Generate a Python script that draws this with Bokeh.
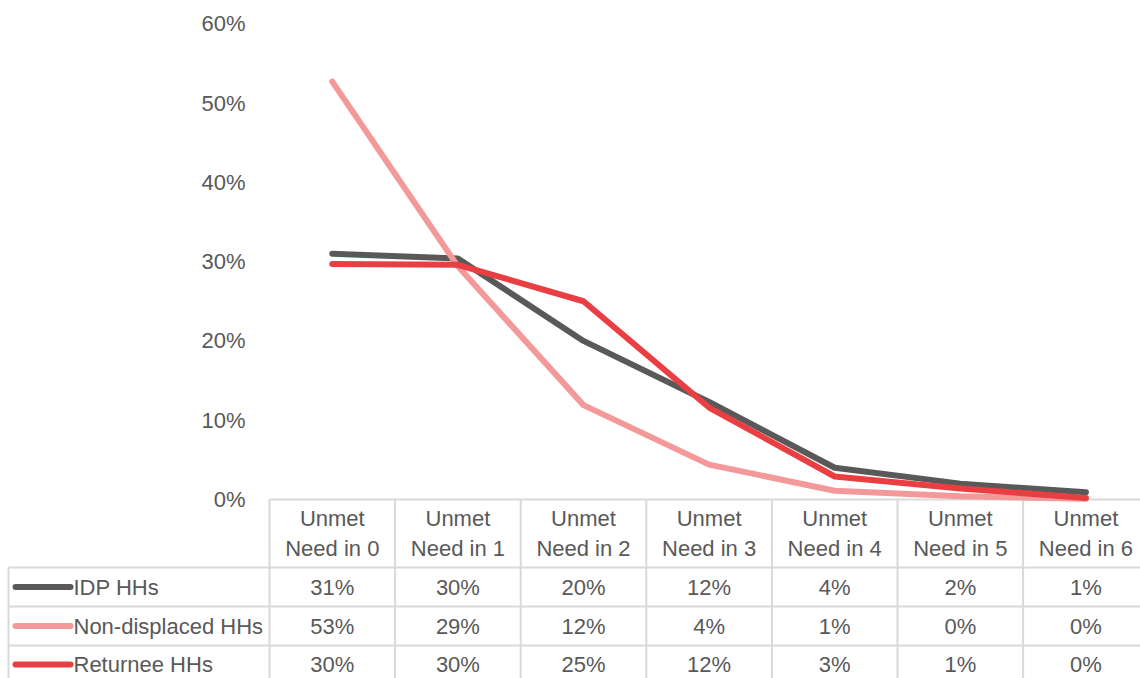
from bokeh.plotting import figure
from bokeh.models import Range1d, ColumnDataSource
from bokeh.core.properties import value
from bokeh.embed import file_html
from bokeh.resources import INLINE

# ---- data -------------------------------------------------------------
categories = ["Unmet Need in 0", "Unmet Need in 1", "Unmet Need in 2", "Unmet Need in 3",
              "Unmet Need in 4", "Unmet Need in 5", "Unmet Need in 6"]
series_names = ["IDP HHs", "Non-displaced HHs", "Returnee HHs"]
idp_hhs = [31.0, 30.4, 20.0, 12.3, 4.0, 2.0, 0.9]
non_displaced_hhs = [52.7, 29.4, 11.9, 4.4, 1.1, 0.4, 0.1]
returnee_hhs = [29.7, 29.6, 25.0, 11.6, 2.9, 1.4, 0.2]
y_ticks = [0, 10, 20, 30, 40, 50, 60]
y_tick_labels = ["0%", "10%", "20%", "30%", "40%", "50%", "60%"]

series_values = [idp_hhs, non_displaced_hhs, returnee_hhs]
series_colors = ["#595959", "#F4999A", "#E93F43"]

# ---- styling ----------------------------------------------------------
FONT = value("Liberation Sans")
FONT_SIZE = "22px"
TEXT_COLOR = "#595959"
RULE_COLOR = "#D9D9D9"

W, H = 1140, 678
# pixel geometry of the chart frame (category spacing and percent scale)
COL_PX = 125.6          # width of one category column
X0_PX = 331.8           # centre of first category
Y0_PX = 499.0           # baseline (0%)
PCT_PX = 7.93           # pixels per percentage point

x_start = -X0_PX / COL_PX
x_end = (W - X0_PX) / COL_PX
y_end = Y0_PX / PCT_PX
y_start = -(H - Y0_PX) / PCT_PX


def px_x(px):
    return (px - X0_PX) / COL_PX


def px_y(px):
    return (Y0_PX - px) / PCT_PX


p = figure(width=W, height=H,
           x_range=Range1d(x_start, x_end), y_range=Range1d(y_start, y_end),
           output_backend="svg", toolbar_location=None,
           x_axis_location=None, y_axis_location=None,
           min_border=0, outline_line_color=None,
           background_fill_color="white", border_fill_color="white")
p.xgrid.visible = False
p.ygrid.visible = False

n = len(categories)
xs = list(range(n))

# ---- y tick labels ----------------------------------------------------
p.text(x=[px_x(245)] * len(y_ticks), y=y_ticks, text=y_tick_labels,
       text_font=FONT, text_font_size=FONT_SIZE, text_color=TEXT_COLOR,
       text_align="right", text_baseline="middle")

# ---- data table grid --------------------------------------------------
row_edges_px = [567, 606, 645]
left_px = 8
p.segment(x0=[-0.5], y0=[0], x1=[x_end], y1=[0], line_color=RULE_COLOR, line_width=2)
p.segment(x0=[px_x(left_px)] * len(row_edges_px), y0=[px_y(v) for v in row_edges_px],
          x1=[x_end] * len(row_edges_px), y1=[px_y(v) for v in row_edges_px],
          line_color=RULE_COLOR, line_width=2)
col_edges = [i - 0.5 for i in range(n)] + [n - 0.5]
p.segment(x0=col_edges, y0=[0] * len(col_edges), x1=col_edges, y1=[y_start] * len(col_edges),
          line_color=RULE_COLOR, line_width=2)
p.segment(x0=[px_x(left_px)], y0=[px_y(row_edges_px[0])], x1=[px_x(left_px)], y1=[y_start],
          line_color=RULE_COLOR, line_width=2)

# header cells (two lines)
head1 = [c.split(" ", 1)[0] for c in categories]
head2 = [c.split(" ", 1)[1] for c in categories]
p.text(x=xs, y=[px_y(518)] * n, text=head1, text_font=FONT, text_font_size=FONT_SIZE,
       text_color=TEXT_COLOR, text_align="center", text_baseline="middle")
p.text(x=xs, y=[px_y(548)] * n, text=head2, text_font=FONT, text_font_size=FONT_SIZE,
       text_color=TEXT_COLOR, text_align="center", text_baseline="middle")

# ---- lines and table rows --------------------------------------------
row_centers_px = [586.5, 625.5, 664]
for name, vals, color, rc in zip(series_names, series_values, series_colors, row_centers_px):
    ry = px_y(rc)
    src = ColumnDataSource(dict(x=xs, y=vals, row_y=[ry] * n,
                                label=[f"{round(v)}%" for v in vals]))
    p.line("x", "y", source=src, line_color=color, line_width=6,
           line_cap="round", line_join="round")
    p.text(x="x", y="row_y", text="label", source=src, text_font=FONT,
           text_font_size=FONT_SIZE, text_color=TEXT_COLOR,
           text_align="center", text_baseline="middle")
    # legend key inside the table
    p.line(x=[px_x(15), px_x(70)], y=[ry, ry], line_color=color, line_width=6,
           line_cap="round")
    p.text(x=[px_x(73)], y=[ry], text=[name], text_font=FONT, text_font_size=FONT_SIZE,
           text_color=TEXT_COLOR, text_align="left", text_baseline="middle")

open("out.html", "w").write(file_html(p, INLINE))
